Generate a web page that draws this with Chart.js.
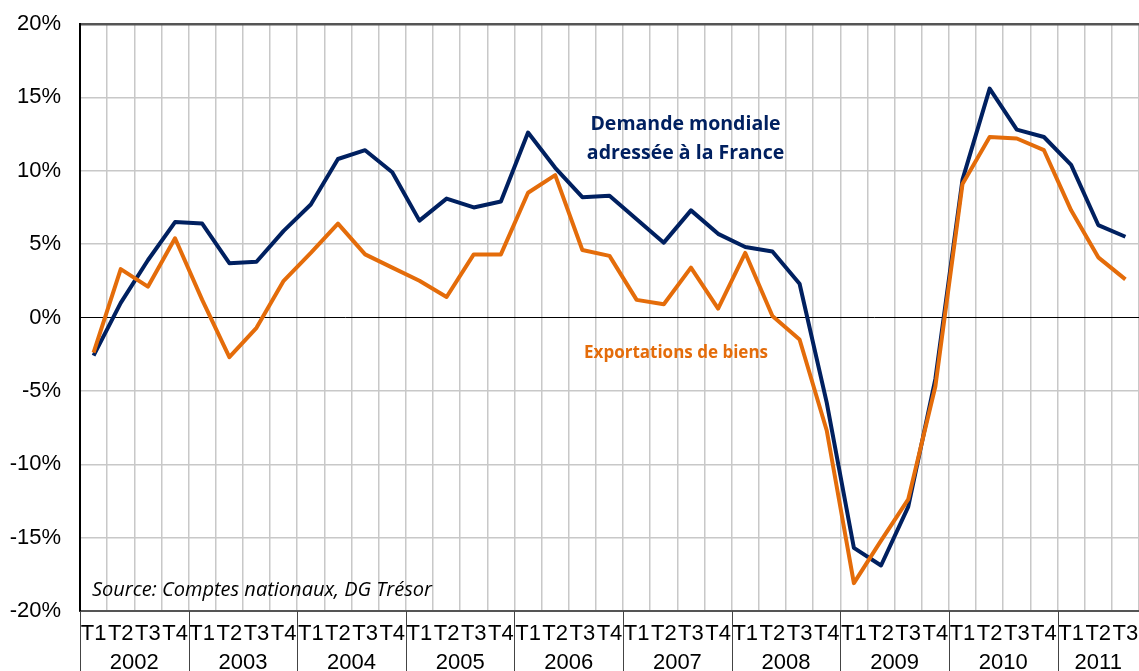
<!DOCTYPE html>
<html>
<head>
<meta charset="utf-8">
<script src="https://cdn.jsdelivr.net/npm/chart.js@4.4.0/dist/chart.umd.min.js"></script>
<style>
  html, body { margin: 0; padding: 0; background: #fff; }
  #wrap { width: 1139px; height: 671px; }
</style>
</head>
<body>
<div id="wrap"><canvas id="chart" width="1139" height="671"></canvas></div>
<script>
// années et trimestres (2002 T1 -> 2011 T3)
const years = ['2002', '2003', '2004', '2005', '2006', '2007', '2008', '2009', '2010', '2011'];
const quarterNames = ['T1', 'T2', 'T3', 'T4'];
const nbQuarters = 39;
const quarterLabels = years.flatMap(y => quarterNames).slice(0, nbQuarters);

// glissement annuel, en %
const demandeMondiale = [
  -2.6, 1.0, 3.9, 6.5,
  6.4, 3.7, 3.8, 5.9,
  7.7, 10.8, 11.4, 9.9,
  6.6, 8.1, 7.5, 7.9,
  12.6, 10.2, 8.2, 8.3,
  6.7, 5.1, 7.3, 5.7,
  4.8, 4.5, 2.3, -5.8,
  -15.7, -16.9, -12.9, -4.2,
  9.4, 15.6, 12.8, 12.3,
  10.4, 6.3, 5.5
];
const exportations = [
  -2.4, 3.3, 2.1, 5.4,
  1.2, -2.7, -0.7, 2.5,
  4.4, 6.4, 4.3, 3.4,
  2.5, 1.4, 4.3, 4.3,
  8.5, 9.7, 4.6, 4.2,
  1.2, 0.9, 3.4, 0.6,
  4.4, 0.1, -1.5, -7.7,
  -18.1, -15.2, -12.4, -4.7,
  9.1, 12.3, 12.2, 11.4,
  7.3, 4.1, 2.6
];

const NAVY = '#002060';
const ORANGE = '#E46C0A';
const AXIS_FONT = '"Liberation Sans", Arial, sans-serif';

// années sous l'axe + séparateurs + étiquettes
const extras = {
  id: 'extras',
  afterDraw(chart) {
    const ctx = chart.ctx;
    const x = chart.scales.x;
    const y = chart.scales.y;
    const area = chart.chartArea;
    const half = (x.getPixelForValue(1) - x.getPixelForValue(0)) / 2;

    ctx.save();
    // séparateurs d'années
    ctx.strokeStyle = '#444';
    ctx.lineWidth = 1;
    for (let i = 0; i <= years.length; i++) {
      const idx = Math.min(i * 4, nbQuarters);
      const px = Math.round(x.getPixelForValue(idx) - half) + 0.5;
      if (px > area.right) continue;
      ctx.beginPath();
      ctx.moveTo(px, area.bottom);
      ctx.lineTo(px, chart.height);
      ctx.stroke();
    }
    // libellés des années
    ctx.fillStyle = '#000';
    ctx.font = '22px ' + AXIS_FONT;
    ctx.textAlign = 'center';
    ctx.textBaseline = 'middle';
    years.forEach((yr, i) => {
      const first = i * 4;
      const last = Math.min(first + 3, nbQuarters - 1);
      const cx = (x.getPixelForValue(first) + x.getPixelForValue(last)) / 2;
      ctx.fillText(yr, cx, area.bottom + 52);
    });

    // étiquettes des séries
    ctx.font = 'bold 19.5px "Open Sans", sans-serif';
    ctx.fillStyle = NAVY;
    ctx.fillText('Demande mondiale', x.getPixelForValue(21.8), y.getPixelForValue(13.15));
    ctx.fillText('adressée à la France', x.getPixelForValue(21.8), y.getPixelForValue(11.15));
    ctx.font = 'bold 17px "Open Sans", sans-serif';
    ctx.fillStyle = ORANGE;
    ctx.fillText('Exportations de biens', x.getPixelForValue(21.45), y.getPixelForValue(-2.4));

    // source
    ctx.font = 'italic 20px "Open Sans", sans-serif';
    ctx.fillStyle = '#000';
    ctx.textAlign = 'left';
    ctx.fillText('Source: Comptes nationaux, DG Trésor', area.left + 12, y.getPixelForValue(-18.6));
    ctx.restore();
  }
};

new Chart(document.getElementById('chart'), {
  type: 'line',
  data: {
    labels: quarterLabels,
    datasets: [
      {
        label: 'Exportations de biens',
        data: exportations,
        borderColor: ORANGE,
        borderWidth: 4,
        pointRadius: 0,
        tension: 0,
        borderJoinStyle: 'round'
      },
      {
        label: 'Demande mondiale adressée à la France',
        data: demandeMondiale,
        borderColor: NAVY,
        borderWidth: 4,
        pointRadius: 0,
        tension: 0,
        borderJoinStyle: 'round'
      }
    ]
  },
  options: {
    responsive: false,
    animation: false,
    layout: { padding: { top: 24, right: 0, left: 0, bottom: 0 } },
    plugins: {
      legend: { display: false },
      tooltip: { enabled: false }
    },
    scales: {
      x: {
        offset: true,
        grid: {
          offset: true,
          color: '#c8c8c8',
          lineWidth: 1.5,
          drawTicks: false
        },
        border: { color: '#555', width: 2 },
        ticks: {
          autoSkip: false,
          maxRotation: 0,
          padding: 10,
          color: '#000',
          font: { family: AXIS_FONT, size: 22 }
        },
        afterFit(scale) {
          scale.height = 60;
          scale.paddingLeft = 0;
          scale.paddingRight = 0;
        }
      },
      y: {
        min: -20,
        max: 20,
        ticks: {
          stepSize: 5,
          padding: 19,
          color: '#000',
          font: { family: AXIS_FONT, size: 22 },
          callback: v => v + '%'
        },
        grid: {
          drawTicks: false,
          color: c => c.tick.value === 0 ? '#000' : (c.tick.value === 20 ? '#555' : '#c8c8c8'),
          lineWidth: c => c.tick.value === 20 ? 2.5 : (c.tick.value === 0 ? 1 : 1.5)
        },
        border: { color: '#000', width: 2 },
        afterFit(scale) {
          scale.width = 80;
          scale.paddingTop = 0;
          scale.paddingBottom = 0;
        }
      }
    }
  },
  plugins: [extras]
});
</script>
</body>
</html>
